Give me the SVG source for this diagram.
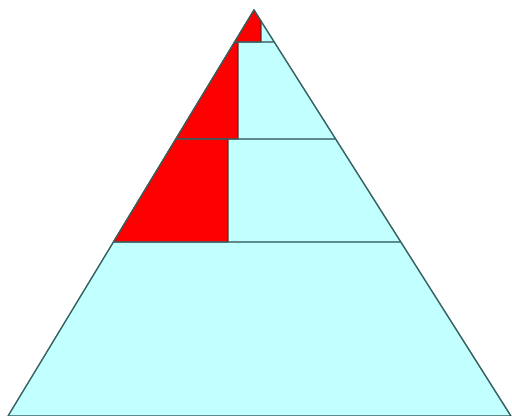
<svg xmlns="http://www.w3.org/2000/svg" width="512" height="416" viewBox="0 0 512 416">
<style>
.band{fill:#c2ffff;stroke:#3a6464;stroke-width:1.3;stroke-linejoin:round}
.red{fill:#ff0000;stroke:#5a2020;stroke-width:1.2;stroke-linejoin:round}
.div{stroke:#3a6464;stroke-width:1.3;fill:none}
</style>
<rect width="512" height="416" fill="#ffffff"/>
<g id="pyramid">
<polygon class="band" points="254,10 511,416 8,416"/>
</g>
<g id="red-areas">
<polygon class="red" points="254,10 261,21 261,42 234.6,42"/>
<polygon class="red" points="234.6,42 238,42 238,139 175.8,139"/>
<polygon class="red" points="175.8,139 228,139 228,242 113.4,242"/>
</g>
<g id="levels">
<line class="div" x1="234.6" y1="42" x2="274.3" y2="42"/>
<line class="div" x1="175.8" y1="139" x2="335.7" y2="139"/>
<line class="div" x1="113.4" y1="242" x2="400.9" y2="242"/>
<polyline class="div" points="8,416 254,10 511,416"/>
</g>
</svg>
